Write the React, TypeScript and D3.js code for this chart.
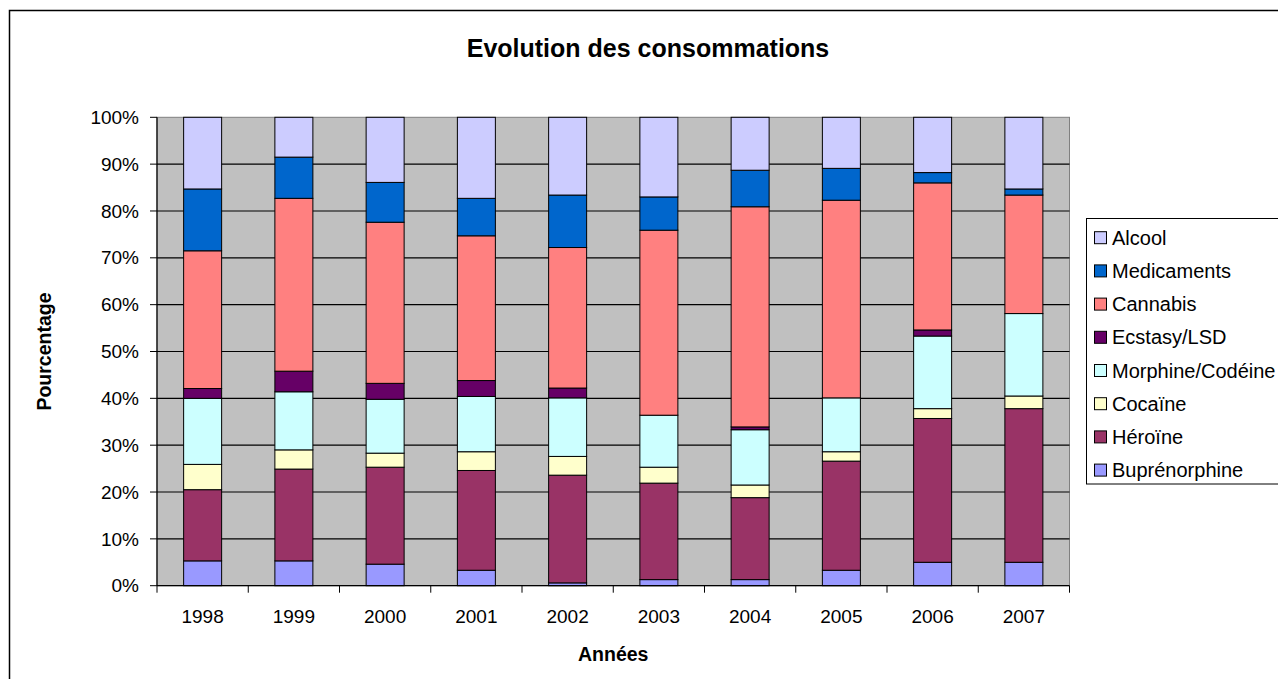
import React from "react";
import * as d3 from "d3";

const years = ["1998", "1999", "2000", "2001", "2002", "2003", "2004", "2005", "2006", "2007"];
const seriesNames = ["Buprénorphine", "Héroïne", "Cocaïne", "Morphine/Codéine", "Ecstasy/LSD", "Cannabis", "Medicaments", "Alcool"];
const seriesColors = ["#9999FF", "#993366", "#FFFFCC", "#CCFFFF", "#660066", "#FF8080", "#0066CC", "#CCCCFF"];

const buprenorphine = [5.3, 5.3, 4.6, 3.3, 0.6, 1.3, 1.3, 3.3, 5.0, 5.0];
const heroine = [15.2, 19.6, 20.7, 21.3, 23.0, 20.6, 17.5, 23.3, 30.7, 32.8];
const cocaine = [5.4, 4.1, 3.0, 4.0, 4.0, 3.4, 2.7, 2.0, 2.1, 2.7];
const morphine = [14.1, 12.4, 11.5, 11.8, 12.5, 11.1, 11.8, 11.5, 15.5, 17.6];
const ecstasy = [2.1, 4.4, 3.4, 3.4, 2.1, 0, 0.6, 0, 1.3, 0];
const cannabis = [29.4, 36.9, 34.4, 30.9, 30.0, 39.5, 47.0, 42.2, 31.4, 25.3];
const medicaments = [13.2, 8.8, 8.5, 8.0, 11.2, 7.1, 7.8, 6.8, 2.2, 1.3];
const alcool = [15.3, 8.5, 13.9, 17.3, 16.6, 17.0, 11.3, 10.9, 11.8, 15.3];

const yTicks = [0, 0.1, 0.2, 0.3, 0.4, 0.5, 0.6, 0.7, 0.8, 0.9, 1];

const seriesValues = [buprenorphine, heroine, cocaine, morphine, ecstasy, cannabis, medicaments, alcool];

export default function App() {
  const W = 1278, H = 679;
  const left = 157, right = 1069.5, top = 117.3, bottom = 585.7;
  const font = "'Liberation Sans', Arial, sans-serif";

  const rows = years.map((y, i) => {
    const r: any = { year: y };
    seriesNames.forEach((s, k) => (r[s] = seriesValues[k][i]));
    return r;
  });
  const stacked = d3.stack<any>().keys(seriesNames).offset(d3.stackOffsetExpand)(rows);

  const pad = 1 - 38 / ((right - left) / years.length);
  const x = d3.scaleBand<string>().domain(years).range([left, right]).paddingInner(pad).paddingOuter(pad / 2);
  const y = d3.scaleLinear().domain([0, 1]).range([bottom, top]);
  const step = x.step();

  const legendOrder = [...seriesNames.keys()].reverse();

  return (
    <svg width={W} height={H} style={{ position: "absolute", left: 0, top: 0, display: "block" }} fontFamily={font}>
      <rect x={0} y={0} width={W} height={H} fill="#fff" />
      <rect x={9.5} y={10.5} width={1400} height={800} fill="#fff" stroke="#000" strokeWidth={1.5} />
      <text x={648} y={57} textAnchor="middle" fontSize={25} fontWeight="bold">Evolution des consommations</text>

      <rect x={left} y={top} width={right - left} height={bottom - top} fill="#C0C0C0" stroke="#808080" strokeWidth={1} />
      {yTicks.map((t) => (
        <g key={t}>
          {t > 0 && t < 1 && <line x1={left} x2={right} y1={y(t)} y2={y(t)} stroke="#000" strokeWidth={1.2} />}
          <line x1={left - 7} x2={left} y1={y(t)} y2={y(t)} stroke="#000" strokeWidth={1} />
          <text x={139} y={y(t)} dy="0.35em" textAnchor="end" fontSize={19}>{`${Math.round(t * 100)}%`}</text>
        </g>
      ))}

      {stacked.map((layer, k) => (
        <g key={layer.key} fill={seriesColors[k]} stroke="#000" strokeWidth={1}>
          {layer.map((d, i) =>
            d[1] - d[0] > 0 ? (
              <rect key={i} x={x(years[i])} y={y(d[1])} width={x.bandwidth()} height={y(d[0]) - y(d[1])} />
            ) : null
          )}
        </g>
      ))}

      <line x1={left} x2={left} y1={top} y2={bottom} stroke="#000" strokeWidth={1.2} />
      <line x1={left} x2={right} y1={bottom} y2={bottom} stroke="#000" strokeWidth={1.2} />
      {d3.range(years.length + 1).map((i) => (
        <line key={i} x1={left + i * step} x2={left + i * step} y1={bottom} y2={bottom + 7} stroke="#000" strokeWidth={1} />
      ))}
      {years.map((yr) => (
        <text key={yr} x={(x(yr) as number) + x.bandwidth() / 2} y={623} textAnchor="middle" fontSize={19}>{yr}</text>
      ))}

      <text x={(left + right) / 2} y={661} textAnchor="middle" fontSize={19.5} fontWeight="bold">Années</text>
      <text transform={`translate(51,${(top + bottom) / 2}) rotate(-90)`} textAnchor="middle" fontSize={19.5} fontWeight="bold">Pourcentage</text>

      <rect x={1086.5} y={218.5} width={300} height={265.5} fill="#fff" stroke="#000" strokeWidth={1} />
      {legendOrder.map((k, j) => {
        const cy = 237.7 + j * 33.2;
        return (
          <g key={k}>
            <rect x={1094.5} y={cy - 6} width={12} height={12} fill={seriesColors[k]} stroke="#000" strokeWidth={1} />
            <text x={1112} y={cy} dy="0.35em" fontSize={20}>{seriesNames[k]}</text>
          </g>
        );
      })}
    </svg>
  );
}
